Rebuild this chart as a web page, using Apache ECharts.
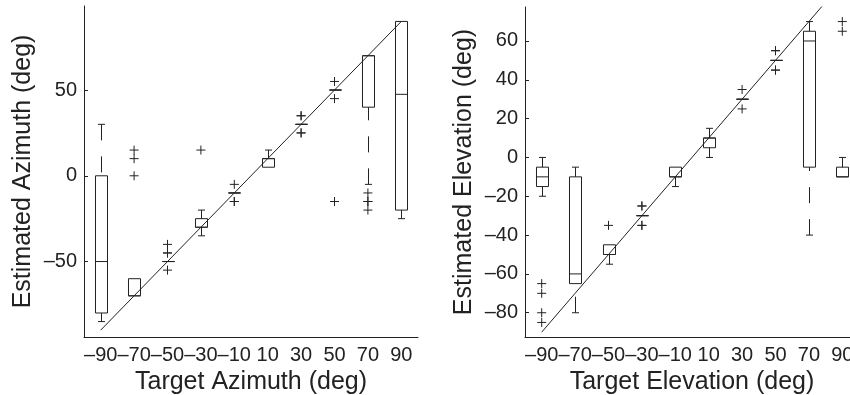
<!DOCTYPE html>
<html>
<head>
<meta charset="utf-8">
<script src="https://cdn.jsdelivr.net/npm/echarts@6/dist/echarts.min.js"></script>
<style>
  html, body { margin: 0; padding: 0; background: #fff; }
  #chart { width: 850px; height: 395px; }
</style>
</head>
<body>
<div id="chart"></div>
<script>
// target angles (one box per target) and their tick labels
const targets = [-90, -70, -50, -30, -10, 10, 30, 50, 70, 90];
const xTickLabels = ['–90', '–70', '–50', '–30', '–10', '10', '30', '50', '70', '90'];

// boxes: [lower whisker, q1, median, q3, upper whisker]
const azBoxes = [
  [-85, -80, -50, 0, 30],
  [-70, -70, -70, -60, -60],
  [-50, -50, -50, -50, -50],
  [-35, -30, -30, -25, -20],
  [-10, -10, -10, -10, -10],
  [5, 5, 10, 10, 15],
  [30, 30, 30, 30, 30],
  [50, 50, 50, 50, 50],
  [-5, 40, 70, 70, 70],
  [-25, -20, 47.5, 90, 90]
];
const elBoxes = [
  [-20, -15, -10, -5, 0],
  [-80, -65, -60, -10, -5],
  [-55, -50, -50, -45, -45],
  [-30, -30, -30, -30, -30],
  [-15, -10, -10, -5, -5],
  [0, 5, 10, 10, 15],
  [30, 30, 30, 30, 30],
  [50, 50, 50, 50, 50],
  [-40, -5, 60, 65, 70],
  [-10, -10, -10, -5, 0]
];

// outliers: [target, estimate]
const azOutliers = [
  [-70, 15], [-70, 10], [-70, 0],
  [-50, -40], [-50, -45], [-50, -45], [-50, -55],
  [-30, 15],
  [-10, -5], [-10, -15], [-10, -15],
  [30, 35], [30, 35], [30, 25], [30, 25],
  [50, 55], [50, 45], [50, -15],
  [70, -10], [70, -15], [70, -15], [70, -20]
];
const elOutliers = [
  [-90, -65], [-90, -70], [-90, -80], [-90, -85],
  [-50, -35],
  [-30, -25], [-30, -25], [-30, -35], [-30, -35],
  [30, 35], [30, 25],
  [50, 55], [50, 55], [50, 45], [50, 45],
  [90, 70], [90, 65]
];

const azYTicks = [-50, 0, 50];
const elYTicks = [-80, -60, -40, -20, 0, 20, 40, 60];

const ink = '#222';
const font = 'Liberation Sans';

const chart = echarts.init(document.getElementById('chart'));

function renderBox(params, api) {
  const i = api.value(0);
  const lo = api.value(1), q1 = api.value(2), med = api.value(3), q3 = api.value(4), hi = api.value(5);
  const step = api.size([1, 0])[0];
  const cx = Math.round(api.coord([i, med])[0]) + 0.5;
  const bw = step * 0.36, cw = step * 0.21;
  const y = v => api.coord([i, v])[1];
  const stroke = { stroke: ink, lineWidth: 1, fill: null };
  const dashed = { stroke: ink, lineWidth: 1, lineDash: [16, 16], fill: null };
  const kids = [
    { type: 'rect', shape: { x: cx - bw / 2, y: y(q3), width: bw, height: y(q1) - y(q3) }, style: stroke },
    { type: 'line', shape: { x1: cx - bw / 2, y1: y(med), x2: cx + bw / 2, y2: y(med) }, style: stroke }
  ];
  if (hi > q3) {
    kids.push({ type: 'line', shape: { x1: cx, y1: y(hi), x2: cx, y2: y(q3) }, style: dashed });
    kids.push({ type: 'line', shape: { x1: cx - cw / 2, y1: y(hi), x2: cx + cw / 2, y2: y(hi) }, style: stroke });
  }
  if (lo < q1) {
    kids.push({ type: 'line', shape: { x1: cx, y1: y(lo), x2: cx, y2: y(q1) }, style: dashed });
    kids.push({ type: 'line', shape: { x1: cx - cw / 2, y1: y(lo), x2: cx + cw / 2, y2: y(lo) }, style: stroke });
  }
  return { type: 'group', children: kids };
}

function renderPlus(params, api) {
  const p = api.coord([api.value(0), api.value(1)]);
  const s = 4.5;
  const style = { stroke: ink, lineWidth: 1 };
  return {
    type: 'group',
    children: [
      { type: 'line', shape: { x1: p[0] - s, y1: p[1], x2: p[0] + s, y2: p[1] }, style },
      { type: 'line', shape: { x1: p[0], y1: p[1] - s, x2: p[0], y2: p[1] + s }, style }
    ]
  };
}

function xAxisFor(gridIndex, name) {
  return {
    type: 'category',
    gridIndex,
    data: xTickLabels,
    boundaryGap: true,
    name,
    nameLocation: 'middle',
    nameGap: 29,
    nameTextStyle: { fontFamily: font, fontSize: 25, color: ink },
    axisLine: { onZero: false, lineStyle: { color: ink, width: 1 } },
    axisTick: { inside: true, length: 4, alignWithLabel: true, lineStyle: { color: ink } },
    axisLabel: { interval: 0, margin: 8, fontFamily: font, fontSize: 20, color: ink },
    splitLine: { show: false }
  };
}

function yAxisFor(gridIndex, name, min, max, ticks) {
  return {
    type: 'value',
    gridIndex,
    min,
    max,
    name,
    nameLocation: 'middle',
    nameGap: 48,
    nameTextStyle: { fontFamily: font, fontSize: 25, color: ink },
    axisLine: { show: true, onZero: false, lineStyle: { color: ink, width: 1 } },
    axisTick: { show: true, inside: true, length: 4, customValues: ticks, lineStyle: { color: ink } },
    axisLabel: {
      customValues: ticks,
      margin: 7,
      fontFamily: font,
      fontSize: 20,
      color: ink,
      formatter: v => String(v).replace('-', '–')
    },
    splitLine: { show: false }
  };
}

const idx = t => targets.indexOf(t);
const azBoxData = azBoxes.map((b, i) => [i].concat(b));
const elBoxData = elBoxes.map((b, i) => [i].concat(b));
const diag = targets.map((t, i) => [i, t]);

const option = {
  backgroundColor: '#fff',
  animation: false,
  grid: [
    { left: 84, top: 6, width: 334, height: 331, outerBoundsMode: 'none' },
    { left: 525, top: 7, width: 334, height: 330, outerBoundsMode: 'none' }
  ],
  xAxis: [
    xAxisFor(0, 'Target Azimuth (deg)'),
    xAxisFor(1, 'Target Elevation (deg)')
  ],
  yAxis: [
    yAxisFor(0, 'Estimated Azimuth (deg)', -94, 99, azYTicks),
    yAxisFor(1, 'Estimated Elevation (deg)', -92.5, 77.5, elYTicks)
  ],
  series: [
    {
      type: 'line', xAxisIndex: 0, yAxisIndex: 0, data: diag,
      showSymbol: false, clip: true, silent: true,
      lineStyle: { color: ink, width: 1 }
    },
    {
      type: 'line', xAxisIndex: 1, yAxisIndex: 1, data: diag,
      showSymbol: false, clip: true, silent: true,
      lineStyle: { color: ink, width: 1 }
    },
    {
      type: 'custom', xAxisIndex: 0, yAxisIndex: 0, data: azBoxData,
      renderItem: renderBox, encode: { x: 0, y: [1, 2, 3, 4, 5] }
    },
    {
      type: 'custom', xAxisIndex: 1, yAxisIndex: 1, data: elBoxData,
      renderItem: renderBox, encode: { x: 0, y: [1, 2, 3, 4, 5] }
    },
    {
      type: 'custom', xAxisIndex: 0, yAxisIndex: 0,
      data: azOutliers.map(o => [idx(o[0]), o[1]]),
      renderItem: renderPlus, encode: { x: 0, y: 1 }
    },
    {
      type: 'custom', xAxisIndex: 1, yAxisIndex: 1,
      data: elOutliers.map(o => [idx(o[0]), o[1]]),
      renderItem: renderPlus, encode: { x: 0, y: 1 }
    }
  ]
};

chart.setOption(option);
</script>
</body>
</html>
